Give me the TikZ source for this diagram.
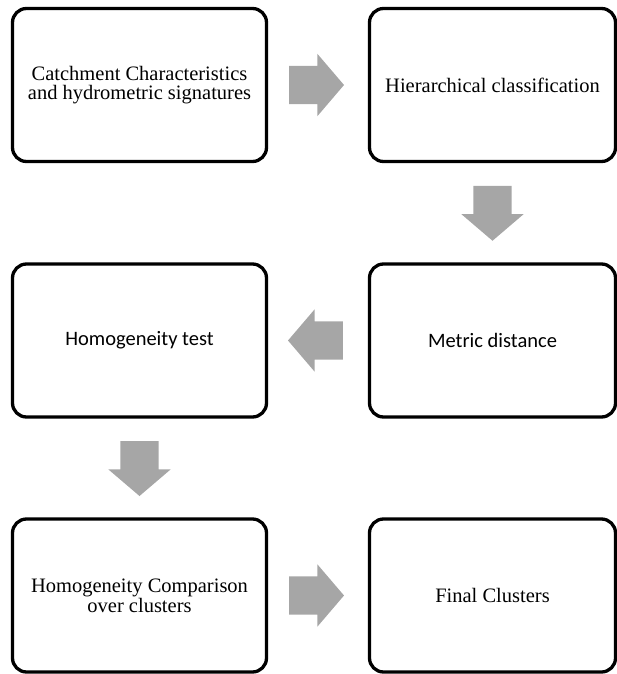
\documentclass[tikz,border=0pt]{standalone}
\usepackage{fontspec}
\setmainfont{Liberation Serif}
\newfontfamily\carlito{Carlito}
\usetikzlibrary{calc,shapes.arrows}
\definecolor{arrowgray}{HTML}{A6A6A6}

\begin{document}
\begin{tikzpicture}[x=1pt, y=-1pt,
    stage/.style={draw, line width=3.3pt, rounded corners=14pt, minimum height=153pt, align=center, inner sep=0pt},
    leftstage/.style={stage, minimum width=254pt},
    rightstage/.style={stage, minimum width=246pt},
    blockarrow/.style={single arrow, fill=arrowgray, draw=none, inner sep=19pt, minimum height=54pt, single arrow head extend=12pt, single arrow tip angle=99, anchor=tail}]
  \useasboundingbox (0,0) rectangle (617,674);
  % stages of the procedure
  \node[leftstage, font=\fontsize{20.5}{19}\selectfont] (cc) at (139.5,85) {Catchment Characteristics\\and hydrometric signatures};
  \node[rightstage, font=\fontsize{20.5}{19}\selectfont] (hc) at (492.5,85) {Hierarchical classification};
  \node[leftstage, font=\carlito\fontsize{20.5}{19}\selectfont] (ht) at (139.5,340.5) {Homogeneity test};
  \node[rightstage, font=\carlito\fontsize{20.5}{19}\selectfont] (md) at (492.5,340.5) {Metric distance};
  \node[leftstage, font=\fontsize{20.5}{17}\selectfont] (hcmp) at (139.5,595.5) {Homogeneity Comparison\\over clusters};
  \node[rightstage, font=\fontsize{20.5}{19}\selectfont] (fc) at (492.5,595.5) {Final Clusters};
  % block arrows between them, tail 27pt before the midpoint
  \foreach \a/\b/\r in {cc/hc/0, hc/md/270, md/ht/180, ht/hcmp/270, hcmp/fc/0} {
    \coordinate (mid\a) at ($(\a)!0.5!(\b)$);
    \node[blockarrow, shape border rotate=\r] (arr\a) at ($(mid\a)!27pt!(\a)$) {};
  }
\end{tikzpicture}
\end{document}
